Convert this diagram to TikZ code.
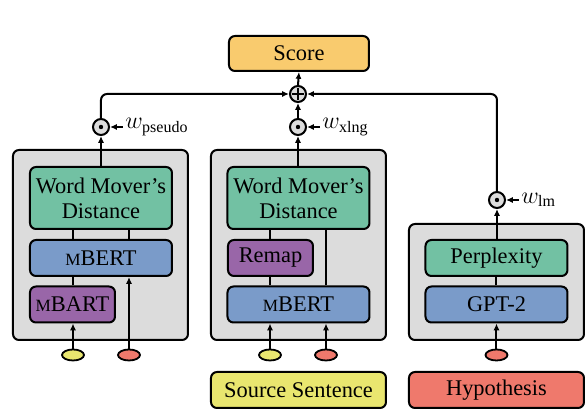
\documentclass[tikz,border=0pt]{standalone}
\usepackage{fontspec}
\setmainfont{Liberation Serif}
\usetikzlibrary{arrows.meta,calc,shapes.geometric}
\definecolor{cScore}{HTML}{F9CB6E}
\definecolor{cGreen}{HTML}{72C1A3}
\definecolor{cBlue}{HTML}{7A9BC9}
\definecolor{cPurple}{HTML}{9966A8}
\definecolor{cGray}{HTML}{DCDCDC}
\definecolor{cYellow}{HTML}{E9E66F}
\definecolor{cRed}{HTML}{EF796C}
\newcommand{\smM}{{\fontsize{8.6}{8.6}\selectfont M}}
\begin{document}
\begin{tikzpicture}[x=0.5pt,y=-0.5pt,font=\fontsize{11.2}{12.5}\selectfont,
  panel/.style={draw,line width=1pt,fill=cGray,rounded corners=3pt,minimum width=87.5pt,inner sep=0pt},
  blk/.style={draw,line width=1pt,rounded corners=3pt,minimum width=71pt,minimum height=18pt,align=center,inner sep=0pt},
  conn/.style={line width=1pt},
  arr/.style={line width=1pt,-{Latex[length=3.4pt,width=3pt]}},
  oval/.style={draw,ellipse,line width=0.9pt,minimum width=11pt,minimum height=5.5pt,inner sep=0pt},
  dot/.style={draw,circle,line width=1pt,fill=cGray,minimum size=8pt,inner sep=0pt},
  plus/.style={draw,circle,line width=1pt,fill=cGray,minimum size=8pt,inner sep=0pt,
    path picture={\draw[line width=0.9pt] ($(path picture bounding box.center)+(-3.2pt,0)$) -- ($(path picture bounding box.center)+(3.2pt,0)$);
                  \draw[line width=0.9pt] ($(path picture bounding box.center)+(0,-3.2pt)$) -- ($(path picture bounding box.center)+(0,3.2pt)$);}},
  wlab/.style={inner sep=1pt,anchor=west,font=\fontsize{12}{13}\selectfont}
]
\useasboundingbox (0,0) rectangle (586,410);

% panels
\node[panel,minimum height=95pt] (pL) at (100.5,245) {};
\node[panel,minimum height=95pt] (pM) at (298.5,245) {};
\node[panel,minimum height=58pt] (pR) at (496.5,282) {};

% score and combination
\node[blk,fill=cScore,minimum width=70pt,minimum height=17.5pt] (score) at (299,53.5) {Score};
\node[plus] (plus) at (298,94) {};
\node[dot] (dL) at (101,127) {};
\node[dot] (dM) at (298,127) {};
\node[dot] (dR) at (497,200) {};
\fill (dL.center) circle (1.1pt) (dM.center) circle (1.1pt) (dR.center) circle (1.1pt);
\node[wlab] (wL) at (123,127) {$w_{\mathrm{pseudo}}$};
\node[wlab] (wM) at (320,127) {$w_{\mathrm{xlng}}$};
\node[wlab] (wR) at (519,200) {$w_{\mathrm{lm}}$};

% left panel
\node[blk,fill=cGreen,minimum height=31pt] (wmdL) at (101,198) {Word Mover's\\Distance};
\node[blk,fill=cBlue] (mbertL) at (101,258) {\smM BERT};
\node[blk,fill=cPurple,minimum width=42.5pt] (mbart) at (72.5,304.5) {\smM BART};
\node[oval,fill=cYellow] (oL1) at (73,355) {};
\node[oval,fill=cRed] (oL2) at (129,355) {};

% middle panel
\node[blk,fill=cGreen,minimum height=31pt] (wmdM) at (298.5,198) {Word Mover's\\Distance};
\node[blk,fill=cPurple,minimum width=42.5pt] (remap) at (270.5,258) {Remap};
\node[blk,fill=cBlue] (mbertM) at (298.5,304.5) {\smM BERT};
\node[oval,fill=cYellow] (oM1) at (270,355) {};
\node[oval,fill=cRed] (oM2) at (326,355) {};

% right panel
\node[blk,fill=cGreen] (perp) at (496.5,258) {Perplexity};
\node[blk,fill=cBlue] (gpt) at (496.5,304.5) {GPT-2};
\node[oval,fill=cRed] (oR) at (496.5,355) {};

% inputs
\node[blk,fill=cYellow,minimum width=87.5pt] (src) at (298.5,390) {Source Sentence};
\node[blk,fill=cRed,minimum width=87.5pt] (hyp) at (496.5,390) {Hypothesis};

% connectors left
\draw[arr] (oL1) -- (mbart.south -| oL1);
\draw[arr] (oL2) -- (mbertL.south -| oL2);
\draw[conn] (mbart.north -| oL1) -- (mbertL.south -| oL1);
\draw[conn] (mbertL.north -| oL1) -- (wmdL.south -| oL1);
\draw[conn] (mbertL.north -| oL2) -- (wmdL.south -| oL2);
\draw[arr] (wmdL.north) -- (dL.south);

% connectors middle
\draw[arr] (oM1) -- (mbertM.south -| oM1);
\draw[arr] (oM2) -- (mbertM.south -| oM2);
\draw[conn] (mbertM.north -| oM1) -- (remap.south -| oM1);
\draw[conn] (remap.north -| oM1) -- (wmdM.south -| oM1);
\draw[conn] (mbertM.north -| oM2) -- (wmdM.south -| oM2);
\draw[arr] (wmdM.north -| dM) -- (dM.south);

% connectors right
\draw[arr] (oR) -- (gpt.south);
\draw[conn] (gpt.north) -- (perp.south);
\draw[arr] (perp.north -| dR) -- (dR.south);

% weights
\draw[arr] (wL.west) -- (dL.east);
\draw[arr] (wM.west) -- (dM.east);
\draw[arr] (wR.west) -- (dR.east);

% combination
\draw[arr,rounded corners=3pt] (dL.north) |- (plus.west);
\draw[arr,rounded corners=3pt] (dR.north) |- (plus.east);
\draw[arr] (dM.north) -- (plus.south);
\draw[arr] (plus.north) -- (score.south);
\end{tikzpicture}
\end{document}
